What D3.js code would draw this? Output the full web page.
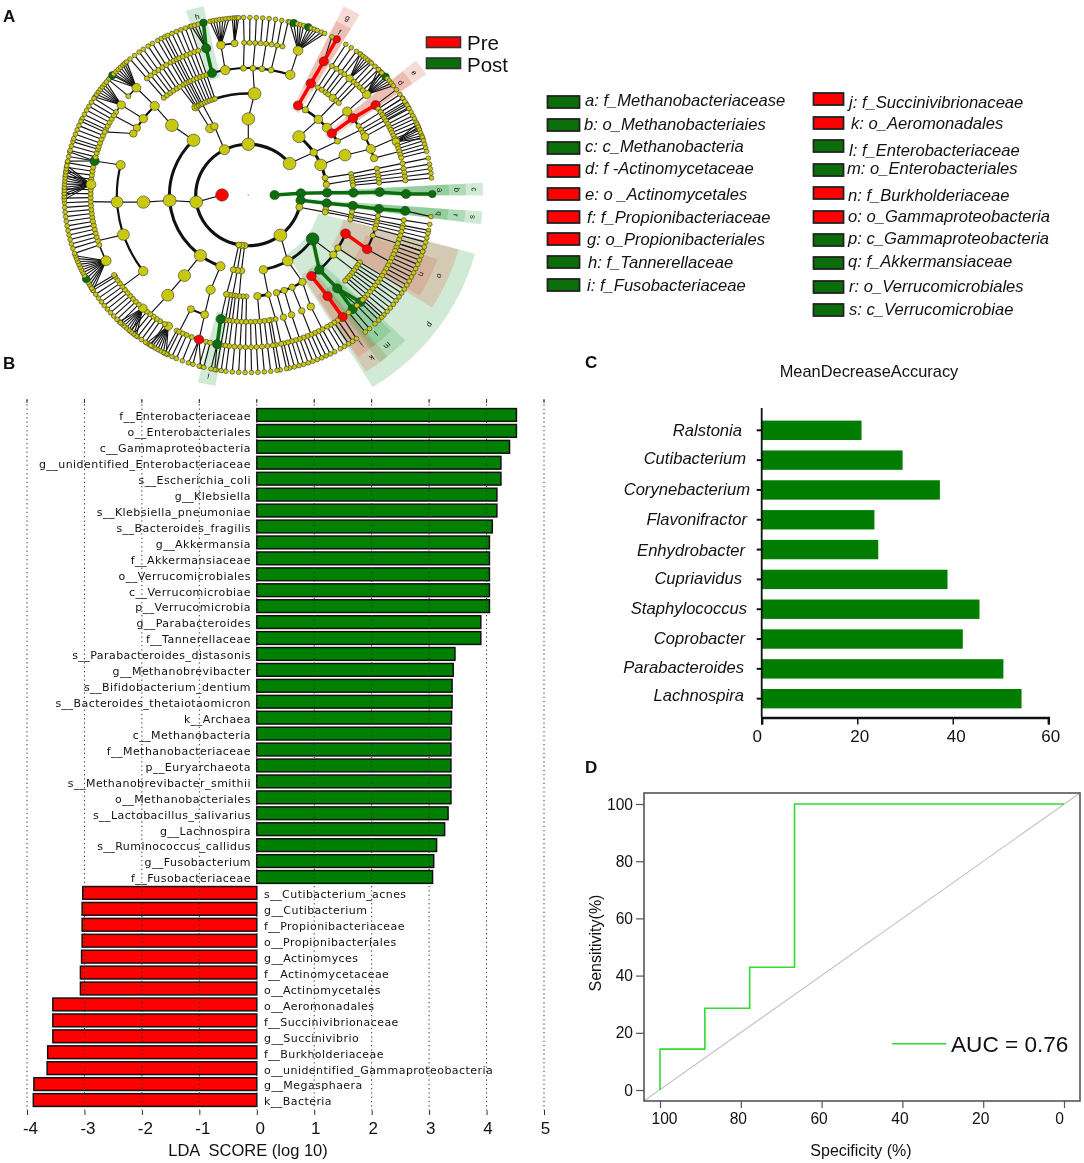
<!DOCTYPE html>
<html><head><meta charset="utf-8">
<style>
html,body{margin:0;padding:0;background:#fff}
svg{display:block;filter:blur(.35px)}
text{font-family:"Liberation Sans",Arial,sans-serif;fill:#111}
.lda text{font-family:"DejaVu Sans",sans-serif}
</style>
<script src="https://cdn.jsdelivr.net/npm/d3@7/dist/d3.min.js"></script>
</head><body><svg id="c" width="1084" height="1163" viewBox="0 0 1084 1163"></svg>
<script>
// ---------- Panel A data: angles in degrees clockwise from east; number = unbranched run out to the rim
const archaea=[0,[[-2,[[-1.7,[[-1.3,[[-1.3,[[-0.4,[[-0.3,null,'g']],'g']],'g']],'g']],'g']],'g']],'g'];
const verrucomicrobia=[6,[[6.2,[[6.1,[[6.3,[[6,[7],'g']],'g']],'g']],'g']],'g'];
const smallPhylum14=[13.9,[[11,[11.5,9.5]],[13,[12.5,14]]]];
const proteobacteria=[52.4,[
 [35.3,[
  [22.4,[[25.3,[17,18.5,20,21.5,23,24.5,26,27.5,29,30.5],'r'],15.4,18.6],'r'],
  [31.5,[32,33.5,35]],
  [36,[36.5,38,39.5,41,42.5]],
  [47.5,[[47.4,[[48.6,[48.8],'g'],[44.7,[44.8],'g'],43.5,46.5],'g']],'g'],
  [53.1,[[52.9,[[53.3,[54],'r'],50.5,55.5],'r']],'r']
 ],'g'],
 [60,[[59,[[61.6,[57,58.5,60,62,63.5]]]],[65.4,[[66,[65,66.5,68]]]],[70,[[70.8,[69.5,71,72.5]]]],[74.4,[[74.5,[74,75.5,77]]]]]],
 [79,[[79,[78,80]],[85,[81,83,85,87,89]]]]
]];
const smallPhylum94=[94,[[95,[91,93,95]]]];
const smallPhylum97=[97.5,[[98,[97,98.5,100]]]];
const fusobacteria=[100.5,[[101,[[102,[[102.1,[[101.4,[100.5,101.7],'g']],'g']]]]]]];
const firmicutes=[171.9,[
 [110.7,[[111,[[115.9,[117,116,114.5,113]],[109.4,[[108.2,[107.5,109,105],'r'],111,105.5,104]]]]]],
 [127.4,[[127.4,[[127.8,[[120.5,[116.5,117.5,118.5,119.5,120.5,121.5,122.5,123.5]],122,124,125.5,127,128.5,130,[132,[127.5,128.5,129.5,130.5,131.5,132.5,133.5,134.5]]]]]]]],
 [175.9,[[176,[
  [193.7,[186,187.5,189,190.5,[192.9,[191,192.5,194],'g'],194.5,196,197.5]],
  [176.8,[171.5,173,174.5,176,177.5,179,180.5,182,[184,[178.5,179.5,180.5,181.5,182.5,183.5,184.5,185.5,186.5,187.5,188.5,189.5]]]],
  [161.8,[[154.4,[147.5,148.5,149.5,150.5,[151.8,null,'g'],153,154,155,156,157,158,159,160]],160.8,162.5,164,165.5,167,168.5,170]],
  [143.1,[134,135.5,137,138.5,140,141.5,143,144.5,146,147.5,148.3]]
 ]]]],
 [226,[[223.4,[
  [224.6,[[224.8,[221,[222.4,null,'g'],223,224,225,226,227,227.8,228.6]],220.5]],
  [217,[[216.3,[213.5,214.5,215.5,216.5,217.5,218.5,219.5]],213]],
  [212,[205.5,207,208.5,210,211.5]],
  [209,[198.5,200,201.5,203,204.5]]
 ]]]]
]];
const bacteroidetesLike=[243,[[241,[[240,[230,231.8,233.6,235.2,237,238.6]],240.5,241.8,243]],[244.5,[244,245.5,247,248.5,250]]]];
const phylumTop=[270,[[270,[251.5,
 [273.4,[
  [254,[[254.5,[252,253,254.2,[255.9,null,'g']],'g']],'g'],
  [259.9,[[260,[258,259,260,261,262,263,264]],[265,[265,265.7,266.4,267]]]],
  [267.9,[268.5,270.5]],
  [272,[272.5,274.5]],
  [276,[276.5,278.5]],
  [280,[280.5,282.5]],
  [288.6,[[288.4,[283,[284.3,null,'g'],285.5,286.5,287.5,[289,null,'g'],290,291,292,293.4,294.5]]]]
 ]]
]]]];
const phylumRight=[321.7,[
 [310,[
  [298.2,[[298.4,[[298.6,[[298.7,null,'r'],297],'r']],'r']],'r'],
  [302.9,[302,304,306]],
  [311.8,[307.5,[310,[[310,[307.5,308.5,309.5,310.5,311.5]]]],312,313.5]],
  [318.4,[[318.8,[[318.6,[315,316,317,[318.2,null,'g'],319,320,321,322]],315,316.5]]]]
 ]],
 [326,[[322.6,[[322.7,[[323.8,[323.6],'r'],325.5],'r'],327],'r'],[328,[329,330.5]]]],
 [336.7,[[336.9,[[332.6,[327,328.3,329.6,330.9,332.2,333.5]],[338.7,[334.6,335.8,337,338.2,[339.5,[336.5,337.5,338.5,339.5,340.5,341.5]]]],[343.1,[341,342.2,343.4,344.6,345.8]]]]]],
 [347,[348,350]],
 [352,[351.5,353,354.5]]
]];
const bacteria=[180,[verrucomicrobia,smallPhylum14,proteobacteria,smallPhylum94,smallPhylum97,fusobacteria,firmicutes,bacteroidetesLike,phylumTop,phylumRight],'r'];
const cladeLetters=['a','b','c','d','e','f','g','h','i','j','k','l','m','n','o','p','q','r','s'];
const cladeAngle=[-1.5,-1.5,-1.5,322.6,322.6,298.4,298.4,254.5,102,53.8,53.8,48.3,48.3,25.4,23.7,36.5,5.8,5.8,5.8];
const cladeSpread=[1.6,1.6,1.6,2.3,2.3,2.4,2.4,2.6,2.6,3,3.5,3.7,4.5,6,8.7,21.5,1.6,1.6,1.6];
const cladeRank=[5,4,3,5,4,5,4,5,5,5,4,5,4,5,4,3,5,4,3];
const cladeClass=['g','g','g','r','r','r','r','g','g','r','r','g','g','r','r','g','g','g','g'];
const cladeNames=['a: f_Methanobacteriacease','b: o_Methanobacteriaies','c: c_Methanobacteria','d: f -Actinomycetaceae','e: o _Actinomycetales','f: f_Propionibacteriaceae','g: o_Propionibacteriales','h: f_Tannerellaceae','i: f_Fusobacteriaceae','j: f_Succinivibrionaceae','k: o_Aeromonadales','l: f_Enterobacteriaceae','m: o_Enterobacteriales','n: f_Burkholderiaceae','o: o_Gammaproteobacteria','p: c_Gammaproteobacteria','q: f_Akkermansiaceae','r: o_Verrucomicrobiales','s: c_Verrucomicrobiae'];
const classNames=['Pre','Post'];

// ---------- Panel B data
const ldaUp=['f__Enterobacteriaceae','o__Enterobacteriales','c__Gammaproteobacteria','g__unidentified_Enterobacteriaceae','s__Escherichia_coli','g__Klebsiella','s__Klebsiella_pneumoniae','s__Bacteroides_fragilis','g__Akkermansia','f__Akkermansiaceae','o__Verrucomicrobiales','c__Verrucomicrobiae','p__Verrucomicrobia','g__Parabacteroides','f__Tannerellaceae','s__Parabacteroides_distasonis','g__Methanobrevibacter','s__Bifidobacterium_dentium','s__Bacteroides_thetaiotaomicron','k__Archaea','c__Methanobacteria','f__Methanobacteriaceae','p__Euryarchaeota','s__Methanobrevibacter_smithii','o__Methanobacteriales','s__Lactobacillus_salivarius','g__Lachnospira','s__Ruminococcus_callidus','g__Fusobacterium','f__Fusobacteriaceae'];
const ldaUpValues=[4.52,4.52,4.4,4.25,4.25,4.18,4.18,4.1,4.05,4.05,4.05,4.05,4.05,3.9,3.9,3.45,3.42,3.4,3.4,3.39,3.38,3.38,3.38,3.38,3.38,3.33,3.27,3.13,3.08,3.06];
const ldaDown=['s__Cutibacterium_acnes','g__Cutibacterium','f__Propionibacteriaceae','o__Propionibacteriales','g__Actinomyces','f__Actinomycetaceae','o__Actinomycetales','o__Aeromonadales','f__Succinivibrionaceae','g__Succinivibrio','f__Burkholderiaceae','o__unidentified_Gammaproteobacteria','g__Megasphaera','k__Bacteria'];
const ldaDownValues=[-3.03,-3.04,-3.04,-3.04,-3.05,-3.07,-3.07,-3.55,-3.55,-3.55,-3.64,-3.65,-3.88,-3.89];
const ldaTicks=[-4,-3,-2,-1,0,1,2,3,4,5];

// ---------- Panel C data
const genera=['Ralstonia','Cutibacterium','Corynebacterium','Flavonifractor','Enhydrobacter','Cupriavidus','Staphylococcus','Coprobacter','Parabacteroides','Lachnospira'];
const meanDecrease=[20.9,29.5,37.3,23.6,24.4,38.9,45.6,42.1,50.6,54.4];
const meanTicks=[0,20,40,60];

// ---------- Panel D data
const rocSpecificity=[100,100,88.9,88.9,77.8,77.8,66.7,66.7,0];
const rocSensitivity=[0,14.3,14.3,28.6,28.6,42.9,42.9,100,100];
const rocTicks=[0,20,40,60,80,100];

// ---------- Layout (kept apart from data)
const RED='#ff0000',GREEN='#0a6e0a',BAR_GREEN='#007d00';
const svg=d3.select('#c');
const colorOf={r:RED,g:GREEN};

[['A',3,22],['B',3,369],['C',585,368],['D',585,773]].forEach(([t,x,y])=>
 svg.append('text').attr('x',x).attr('y',y).attr('font-size',17).attr('font-weight',700).text(t));

// ---------- Panel A
function norm(n,depth){
 const v=Array.isArray(n)?n:[n];
 let kids=v[1];
 if(!kids&&depth<7)kids=[v[0]];
 return {a:v[0],flag:v[2]||null,children:kids?kids.map(k=>norm(k,depth+1)):null};
}
const tree=d3.hierarchy({a:0,flag:null,children:[norm(archaea,1),norm(bacteria,1)]});
const ring=d3.scaleLinear([0,7],[0,184]);
const ang=d3.scaleLinear([0,360],[Math.PI/2,Math.PI*2.5]);
const sizeOf=d3.scaleSqrt([1,25],[2.6,6.4]).clamp(true);
const A=svg.append('g').attr('transform','translate(248.3,195) scale(1,0.965)');
const arcGen=d3.arc();
const pt=d=>d3.pointRadial(ang(d.data.a),ring(d.depth));
const wedge=cladeLetters.map((l,i)=>({l,a:cladeAngle[i],s:cladeSpread[i],rank:cladeRank[i],c:cladeClass[i]})).sort((p,q)=>p.rank-q.rank);
const labelRing=d3.scaleLinear([5,4,3],[7.3,7.95,8.6]);
A.append('g').selectAll('path').data(wedge).join('path')
 .attr('d',w=>arcGen({innerRadius:ring(w.rank-0.25),outerRadius:ring(labelRing(w.rank)+0.33),startAngle:ang(w.a-w.s),endAngle:ang(w.a+w.s)}))
 .attr('fill',w=>w.c==='r'?'#d9664a':'#3fa84f').attr('fill-opacity',.24);
const inner=tree.descendants().filter(d=>d.depth>0&&d.children);
const arcWidth=d3.scaleLinear([1,2,3,4,5,6],[3.2,3,2.6,2.2,1.6,1]);
A.append('g').selectAll('path').data(inner.filter(d=>d.children.length>1&&d.depth<6)).join('path')
 .attr('d',d=>{const e=d3.extent(d.children,c=>c.data.a);const r=ring(d.depth+1);
   return arcGen({innerRadius:r,outerRadius:r,startAngle:ang(e[0]),endAngle:ang(e[1])});})
 .attr('fill','none').attr('stroke','#111').attr('stroke-width',d=>arcWidth(d.depth));
const linkList=[];
inner.forEach(p=>{
 const best=d3.least(p.children,c=>Math.abs(c.data.a-p.data.a));
 p.children.forEach(c=>{if(c===best||p.depth===6)linkList.push({s:p,t:c});});
});
A.append('g').selectAll('line').data(linkList).join('line')
 .attr('x1',l=>pt(l.s)[0]).attr('y1',l=>pt(l.s)[1]).attr('x2',l=>pt(l.t)[0]).attr('y2',l=>pt(l.t)[1])
 .attr('stroke','#111').attr('stroke-width',1.15);
const flagged=tree.descendants().filter(d=>d.data.flag&&d.parent&&d.parent.data.flag===d.data.flag&&d.depth>1);
A.append('g').selectAll('line').data(flagged).join('line')
 .attr('x1',d=>pt(d.parent)[0]).attr('y1',d=>pt(d.parent)[1]).attr('x2',d=>pt(d)[0]).attr('y2',d=>pt(d)[1])
 .attr('stroke',d=>colorOf[d.data.flag]).attr('stroke-width',3.6);
const nodes=tree.descendants().filter(d=>d.depth>0);
A.append('g').selectAll('circle').data(nodes).join('circle')
 .attr('cx',d=>pt(d)[0]).attr('cy',d=>pt(d)[1])
 .attr('r',d=>d.data.flag?Math.max(sizeOf(d.leaves().length),d.depth===7?3.8:4.7):sizeOf(d.leaves().length)*(d.depth===7?.92:1))
 .attr('fill',d=>d.data.flag?colorOf[d.data.flag]:'#c8c80f').attr('stroke','#333').attr('stroke-width',.6);
A.append('circle').attr('r',.8).attr('fill','#999');
A.append('g').selectAll('text').data(wedge).join('text')
 .attr('transform',w=>{const p=d3.pointRadial(ang(w.a),ring(labelRing(w.rank)));return `translate(${p[0]},${p[1]}) rotate(${w.a+90})`;})
 .attr('text-anchor','middle').attr('dy','.35em').attr('font-size',8).attr('fill','#333').text(w=>w.l);

// Pre/Post legend
classNames.forEach((n,i)=>{
 const y=[37,58][i],b=[50,72][i];
 svg.append('rect').attr('x',426.5).attr('y',y).attr('width',34).attr('height',10.5).attr('fill',[RED,GREEN][i]).attr('stroke','#333').attr('stroke-width',1.6);
 svg.append('text').attr('x',467).attr('y',b).attr('font-size',20.5).text(n);
});
// Clade legend
const rectY=[102,125,148,171,194,217,239,262,285,99,123,146,170,193,217,240,263,287,310];
const textY=[106,130,152,174,200,223,245,268,291,108,129,156,174,201,222,244,267,292,315];
const textX=[585,584,585,585,585,587,587,588,587,849,851,849,847,848,848,848,848,849,849];
cladeNames.forEach((n,i)=>{
 const right=i>=9;
 svg.append('rect').attr('x',right?813.5:547.5).attr('y',rectY[i]-6).attr('width',right?30:32).attr('height',12).attr('fill',colorOf[cladeClass[i]]).attr('stroke','#222').attr('stroke-width',1.8);
 svg.append('text').attr('x',textX[i]).attr('y',textY[i]).attr('font-size',16.6).attr('font-style','italic').text(n);
});

// ---------- Panel B
const ldaNames=ldaUp.concat(ldaDown), ldaValues=ldaUpValues.concat(ldaDownValues);
const bx=d3.scaleLinear([-4,5],[27,544]);
const by=d3.scaleBand(ldaNames,[407,1108]).paddingInner(.2).paddingOuter(.1);
const B=svg.append('g').attr('class','lda');
B.append('g').selectAll('rect').data(ldaNames).join('rect')
 .attr('x',(d,i)=>bx(Math.min(0,ldaValues[i]))).attr('y',d=>by(d))
 .attr('width',(d,i)=>Math.abs(bx(ldaValues[i])-bx(0))).attr('height',by.bandwidth())
 .attr('fill',(d,i)=>ldaValues[i]>0?'#008000':RED).attr('stroke','#111').attr('stroke-width',1.5);
B.append('g').selectAll('text').data(ldaNames).join('text')
 .attr('x',(d,i)=>ldaValues[i]>0?251:264).attr('y',d=>by(d)+by.bandwidth()/2+1.5).attr('dy','.35em')
 .attr('text-anchor',(d,i)=>ldaValues[i]>0?'end':'start').attr('font-size',11).attr('letter-spacing',.45).attr('fill','#222').text(d=>d);
B.append('g').selectAll('line').data(ldaTicks).join('line')
 .attr('x1',d=>bx(d)).attr('x2',d=>bx(d)).attr('y1',400).attr('y2',1110)
 .attr('stroke','#333').attr('stroke-width',1).attr('stroke-dasharray','1.3 3');
B.append('g').selectAll('line').data(ldaTicks).join('line')
 .attr('x1',d=>bx(d)).attr('x2',d=>bx(d)).attr('y1',399).attr('y2',403).attr('stroke','#333');
const bAxis=svg.append('g').attr('transform','translate(0,1110)')
 .call(d3.axisBottom(bx).tickValues(ldaTicks).tickSize(5).tickPadding(7).tickFormat(d=>String(d)));
bAxis.select('.domain').remove();
bAxis.selectAll('line').attr('stroke','#333');
bAxis.selectAll('text').attr('font-size',17).attr('font-family','"Liberation Sans",Arial,sans-serif').attr('dx',d=>d<=0?3:1).attr('fill','#111');
svg.append('text').attr('x',248).attr('y',1156).attr('text-anchor','middle').attr('font-size',16.5).attr('xml:space','preserve').style('white-space','pre').text('LDA  SCORE (log 10)');

// ---------- Panel C
const cx=d3.scaleLinear([0,60],[761.7,1048.3]);
const cy=d3.scaleBand(genera,[415.4,713.6]).paddingInner(.35).paddingOuter(.175);
const C=svg.append('g');
C.append('text').attr('x',869).attr('y',376.5).attr('text-anchor','middle').attr('font-size',16.4).text('MeanDecreaseAccuracy');
C.append('g').selectAll('rect').data(genera).join('rect')
 .attr('x',cx(0)).attr('y',d=>cy(d)).attr('width',(d,i)=>cx(meanDecrease[i])-cx(0)).attr('height',cy.bandwidth()).attr('fill',BAR_GREEN);
const labelEnd=[742,746,750,747,745,742,747,745,744,744];
const labelDy=[0,-2,-1,-1,0,-1,-1,-1,-2,-4];
const yAxisC=C.append('g').attr('transform',`translate(${cx(0)},0)`).call(d3.axisLeft(cy).tickSize(5).tickPadding(8));
yAxisC.select('.domain').attr('stroke','#111').attr('stroke-width',1.8).attr('d','M0,408V717');
yAxisC.selectAll('line').attr('stroke','#111').attr('stroke-width',2);
yAxisC.selectAll('text').attr('font-size',16.6).attr('font-style','italic').attr('font-family','"Liberation Sans",Arial,sans-serif').attr('fill','#111')
 .attr('x',(d,i)=>labelEnd[i]-cx(0)).attr('dy',(d,i)=>(6+labelDy[i])+'px');
const xAxisC=C.append('g').attr('transform','translate(0,717.5)').call(d3.axisBottom(cx).tickValues(meanTicks).tickSize(7).tickPadding(5));
xAxisC.select('.domain').attr('stroke','#111').attr('stroke-width',2.4);
xAxisC.selectAll('line').attr('stroke','#111').attr('stroke-width',1.5);
xAxisC.selectAll('text').attr('font-size',17).attr('font-family','"Liberation Sans",Arial,sans-serif').attr('fill','#111').attr('dx',d=>d===0?-5:d===20?2:d===40?3:2);

// ---------- Panel D
const dx=d3.scaleLinear([100,0],[660,1064]);
const dy=d3.scaleLinear([0,100],[1090,804]);
const D=svg.append('g');
D.append('line').attr('x1',dx(104)).attr('y1',dy(-3.85)).attr('x2',dx(-3.96)).attr('y2',dy(103.85)).attr('stroke','#c4c4c4').attr('stroke-width',1.2);
D.append('rect').attr('x',644).attr('y',793).attr('width',436).attr('height',308).attr('fill','none').attr('stroke','#555').attr('stroke-width',1.6);
const roc=d3.line().x((d,i)=>dx(rocSpecificity[i])).y((d,i)=>dy(rocSensitivity[i]));
D.append('path').attr('d',roc(rocSpecificity)).attr('fill','none').attr('stroke','#2fdc2f').attr('stroke-width',1.6);
const dxa=D.append('g').attr('transform','translate(0,1101)').call(d3.axisBottom(dx).tickValues(rocTicks).tickSize(7).tickPadding(5));
const dya=D.append('g').attr('transform','translate(644,0)').call(d3.axisLeft(dy).tickValues(rocTicks).tickSize(8).tickPadding(3));
[dxa,dya].forEach(a=>{a.select('.domain').remove();a.selectAll('line').attr('stroke','#555').attr('stroke-width',1.2);
 a.selectAll('text').attr('font-size',15.6).attr('font-family','"Liberation Sans",Arial,sans-serif').attr('fill','#111');});
dxa.selectAll('text').attr('dx',d=>d===100?4:d===0?-5:-3);
D.append('line').attr('x1',892).attr('x2',946).attr('y1',1043.7).attr('y2',1043.7).attr('stroke','#2fdc2f').attr('stroke-width',1.6);
D.append('text').attr('x',951).attr('y',1052).attr('font-size',22.6).text('AUC = 0.76');
D.append('text').attr('transform','translate(601,943) rotate(-90)').attr('text-anchor','middle').attr('font-size',16).text('Sensitivity(%)');
D.append('text').attr('x',861).attr('y',1156).attr('text-anchor','middle').attr('font-size',16).text('Specificity (%)');
</script></body></html>
